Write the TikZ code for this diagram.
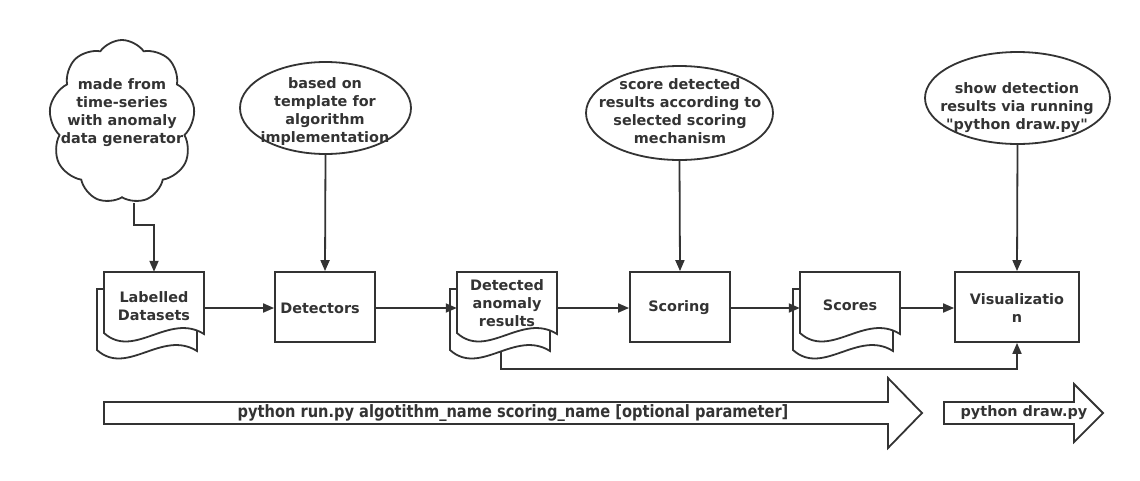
\documentclass[tikz,border=0pt]{standalone}
\usepackage{fontspec}
\setmainfont{DejaVu Sans}[Ligatures=TeXOff]
\newfontfamily\condfont[FakeStretch=0.86]{DejaVu Sans}
\usetikzlibrary{shapes.geometric,shapes.symbols,arrows.meta,calc}
\definecolor{ink}{HTML}{333333}
\newcommand{\docshape}[2]{%
  % back copy
  \filldraw[line, fill=white] (#1-7,#2+17) -- (#1+93,#2+17) -- (#1+93,#2+79)
     .. controls (#1+58,#2+57) and (#1+23,#2+105) .. (#1-7,#2+78) -- cycle;
  % front copy
  \filldraw[line, fill=white] (#1,#2) -- (#1+100,#2) -- (#1+100,#2+62)
     .. controls (#1+65,#2+40) and (#1+30,#2+88) .. (#1,#2+61) -- cycle;
}
\begin{document}
\begin{tikzpicture}[x=1pt,y=-1pt,
  every node/.style={font=\fontsize{14.4}{18}\selectfont\bfseries, text=ink, align=center},
  line/.style={draw=ink, line width=1.8pt, line join=miter},
  arr/.style={line, -{Triangle[length=11pt,width=9pt]}},
  box/.style={line, rectangle, minimum width=100pt, minimum height=70pt, inner sep=0pt, fill=white},
  ell/.style={line, ellipse, inner sep=0pt, fill=white},
  anchorbox/.style={rectangle, minimum width=100pt, minimum height=70pt, inner sep=0pt},
  lbl/.style={inner sep=0pt}]
\useasboundingbox (0,0) rectangle (1140,480);

% cloud
\node[line, cloud, cloud puffs=9, cloud puff arc=110, aspect=0.95, minimum width=146pt, minimum height=164pt, inner sep=0pt, fill=white] (cloud) at (122,122) {};
\node[lbl] (cloudtxt) at (122,113) {made from\\time-series\\with anomaly\\data generator};

% ellipses
\node[ell, minimum width=171pt, minimum height=92pt] (e1) at (325.5,108) {};
\node[lbl] (e1t) at (325,112) {based on\\template for\\algorithm\\implementation};
\node[ell, minimum width=187pt, minimum height=94pt] (e2) at (679.5,113) {};
\node[lbl] (e2t) at (680,111) {score detected\\results according to\\selected scoring\\mechanism};
\node[ell, minimum width=185pt, minimum height=92pt] (e3) at (1017.5,98) {};
\node[lbl] (e3t) at (1017,108) {show detection\\results via running\\"python draw.py"};

% documents
\docshape{104}{272}
\node[anchorbox] (lab) at (154,307) {};
\node[lbl] (labt) at (154,306) {Labelled\\Datasets};
\docshape{457}{272}
\node[anchorbox] (det) at (507,307) {};
\node[lbl] (dett) at (507,303) {Detected\\anomaly\\results};
\docshape{800}{272}
\node[anchorbox] (sco) at (850,307) {};
\node[lbl] (scot) at (850,305) {Scores};

% boxes
\node[box] (dtr) at (325,307) {};
\node[lbl] (dtrt) at (320,308) {Detectors};
\node[box] (scr) at (680,307) {};
\node[lbl] (scrt) at (679,308) {Scoring};
\node[box, minimum width=124pt] (vis) at (1017,307) {};
\node[lbl] (vist) at (1017,308) {Visualizatio\\n};

% connectors
\coordinate (cloudbot) at (134,203);
\draw[arr] (cloudbot) -- (134,225) -| (lab.north);
\draw[arr] (e1.south) -- (dtr.north);
\draw[arr] (e2.south) -- (scr.north);
\draw[arr] (e3.south) -- (vis.north);
\draw[arr] (lab.east |- 0,308) -- (dtr.west |- 0,308);
\draw[arr] (dtr.east |- 0,308) -- (det.west |- 0,308);
\draw[arr] (det.east |- 0,308) -- (scr.west |- 0,308);
\draw[arr] (scr.east |- 0,308) -- (sco.west |- 0,308);
\draw[arr] (sco.east |- 0,308) -- (vis.west |- 0,308);
\coordinate (dback) at (501,352);
\draw[arr] (dback) -- (501,369) -| (vis.south);

% big arrows
\draw[line] (104,402) -- (888,402) -- (888,378) -- (922,413) -- (888,448) -- (888,424) -- (104,424) -- cycle;
\node[lbl, font=\fontsize{17}{19}\condfont\bfseries] (runtxt) at (513,413) {python run.py algotithm\_name scoring\_name [optional parameter]};
\draw[line] (944,402) -- (1074,402) -- (1074,384) -- (1103,413) -- (1074,442) -- (1074,424) -- (944,424) -- cycle;
\node[lbl] (drawtxt) at (1024,413) {python draw.py};
\end{tikzpicture}
\end{document}
